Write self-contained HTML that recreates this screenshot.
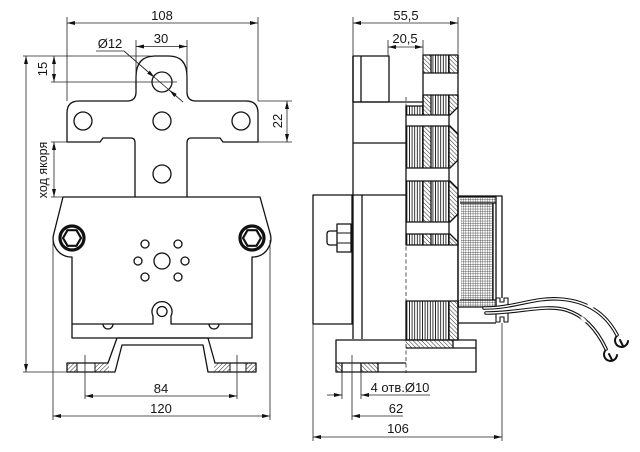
<!DOCTYPE html>
<html><head><meta charset="utf-8"><style>
html,body{margin:0;padding:0;background:#fff;}
svg{display:block;}
text{font-family:"Liberation Sans",Arial,sans-serif;font-size:13px;fill:#151515;}
</style></head><body>
<svg width="640" height="452" viewBox="0 0 640 452" xmlns="http://www.w3.org/2000/svg">
<defs>
<marker id="ar" viewBox="0 0 8 4" refX="8" refY="2" markerWidth="8" markerHeight="4" markerUnits="userSpaceOnUse" orient="auto-start-reverse"><path d="M0,0 L8,2 L0,4 z" fill="#111"/></marker>
<pattern id="v" width="2.6" height="10" patternUnits="userSpaceOnUse"><line x1="1.3" y1="0" x2="1.3" y2="10" stroke="#111" stroke-width="0.85"/></pattern>
<pattern id="ds" width="3" height="3" patternUnits="userSpaceOnUse" patternTransform="rotate(-45)"><line x1="0" y1="0" x2="0" y2="3" stroke="#111" stroke-width="0.9"/></pattern>
<pattern id="df" width="3" height="3" patternUnits="userSpaceOnUse" patternTransform="rotate(45)"><line x1="0" y1="0" x2="0" y2="3" stroke="#111" stroke-width="0.9"/></pattern>
<pattern id="x" width="2.4" height="2.4" patternUnits="userSpaceOnUse"><path d="M0,0 H2.4 M0,0 V2.4" stroke="#222" stroke-width="0.65" fill="none"/></pattern>
</defs>

<g fill="none" stroke="#111" stroke-width="1.3" stroke-linejoin="round">
<!-- ===== LEFT VIEW ===== -->
<path d="M135,197 L135,143 Q135,138 131,138 L103,138 L100,142 L67,142 L67,113 Q67,101 79,101 L127,101 Q136,101 136,92 L136,77 Q136,56 155,56 L169,56 Q187,56 187,77 L187,92 Q187,101 196,101 L246,101 Q258,101 258,113 L258,142 L223,142 L220,138 L191,138 Q187,138 187,143 L187,197"/>
<circle cx="162" cy="82" r="10"/>
<circle cx="83" cy="121" r="9"/>
<circle cx="162" cy="121" r="9"/>
<circle cx="241" cy="121" r="9"/>
<circle cx="162" cy="174" r="9"/>
<path d="M63,197 L260,197 L270,233 A18.5,18.5 0 0 1 254,257 L252,257 L252,338 L72,338 L72,257 L70,257 A18.5,18.5 0 0 1 54,233 Z"/>
<circle cx="72" cy="238" r="12" stroke-width="3.2"/>
<polygon points="81,238 76.5,245.8 67.5,245.8 63,238 67.5,230.2 76.5,230.2" stroke-width="2.2"/>
<circle cx="252" cy="238" r="12" stroke-width="3.2"/>
<polygon points="261,238 256.5,245.8 247.5,245.8 243,238 247.5,230.2 256.5,230.2" stroke-width="2.2"/>
<circle cx="162" cy="261" r="8"/>
<circle cx="145" cy="244" r="4"/><circle cx="178" cy="244" r="4"/>
<circle cx="138" cy="261" r="4"/><circle cx="185" cy="261" r="4"/>
<circle cx="145" cy="277" r="4"/><circle cx="178" cy="277" r="4"/>
<path d="M72,324 L153,324 L153,316 A10,10 0 1 1 171,316 L171,324 L252,324"/>
<circle cx="162" cy="311.5" r="5"/>
<path d="M103,324 A5,5 0 0 0 113,324 M209,324 A5,5 0 0 0 219,324"/>
<rect x="67" y="363" width="10" height="9" fill="url(#df)" stroke="none"/>
<rect x="95" y="363" width="14" height="9" fill="url(#df)" stroke="none"/>
<rect x="214" y="363" width="16" height="9" fill="url(#df)" stroke="none"/>
<rect x="246" y="363" width="10" height="9" fill="url(#df)" stroke="none"/>
<path d="M67,363 L108,363 L117,338 L208,338 L215,363 L256,363 L256,372 L208,372 L203,345 L122,345 L115,372 L67,372 Z"/>
<path d="M77,363 V372 M95,363 V372 M230,363 V372 M246,363 V372" stroke-width="1"/>
</g>

<g fill="none" stroke="#222" stroke-width="0.8">
<path d="M67,17 V101 M258,17 V101"/>
<line x1="67" y1="23" x2="258" y2="23" marker-start="url(#ar)" marker-end="url(#ar)"/>
<path d="M136,40 V80 M187,40 V92"/>
<line x1="136" y1="46.5" x2="187" y2="46.5" marker-start="url(#ar)" marker-end="url(#ar)"/>
<path d="M96,51 H124 L183,102"/>
<line x1="124" y1="51" x2="154.5" y2="77.4" marker-end="url(#ar)"/>
<line x1="183" y1="102" x2="169.5" y2="90.3" marker-end="url(#ar)"/>
<path d="M23,56 H150 M23,372 H67"/>
<line x1="26" y1="56" x2="26" y2="372" marker-start="url(#ar)" marker-end="url(#ar)"/>
<path d="M51,82 H177"/>
<line x1="54" y1="56" x2="54" y2="82" marker-start="url(#ar)" marker-end="url(#ar)"/>
<path d="M51,142 H67 M51,197 H63"/>
<line x1="54" y1="142" x2="54" y2="197" marker-start="url(#ar)" marker-end="url(#ar)"/>
<path d="M258,101 H292 M258,142 H292"/>
<line x1="287" y1="101" x2="287" y2="142" marker-start="url(#ar)" marker-end="url(#ar)"/>
<path d="M85,355 V399 M237,355 V399"/>
<line x1="85" y1="396" x2="237" y2="396" marker-start="url(#ar)" marker-end="url(#ar)"/>
<path d="M53,240 V420 M270,240 V420"/>
<line x1="53" y1="416" x2="270" y2="416" marker-start="url(#ar)" marker-end="url(#ar)"/>
</g>
<text x="162" y="20" text-anchor="middle">108</text>
<text x="161" y="43" text-anchor="middle">30</text>
<text x="110" y="48" text-anchor="middle">Ø12</text>
<text transform="translate(47,69) rotate(-90)" text-anchor="middle">15</text>
<text transform="translate(47,170) rotate(-90)" text-anchor="middle" style="font-size:12.5px">ход якоря</text>
<text transform="translate(282,121) rotate(-90)" text-anchor="middle">22</text>
<text x="161" y="393" text-anchor="middle">84</text>
<text x="161" y="413" text-anchor="middle">120</text>

<!-- ===== RIGHT VIEW ===== -->
<g stroke="none">
<rect x="423" y="55" width="8" height="18" fill="url(#ds)"/>
<rect x="431" y="55" width="18" height="18" fill="url(#v)"/>
<rect x="449" y="55" width="9" height="18" fill="url(#ds)"/>
<rect x="423" y="95" width="8" height="20" fill="url(#ds)"/>
<rect x="431" y="95" width="18" height="20" fill="url(#v)"/>
<polygon points="449,95 458,95 458,107 450,115 449,115" fill="url(#ds)"/>
<rect x="406" y="106" width="17" height="9" fill="url(#v)"/>
<rect x="406" y="126" width="17" height="42" fill="url(#v)"/>
<rect x="423" y="126" width="8" height="42" fill="url(#ds)"/>
<rect x="431" y="126" width="18" height="42" fill="url(#v)"/>
<polygon points="449,126 450,126 458,134 458,160 450,168 449,168" fill="url(#ds)"/>
<rect x="406" y="181" width="17" height="41" fill="url(#v)"/>
<rect x="423" y="181" width="8" height="41" fill="url(#ds)"/>
<rect x="431" y="181" width="18" height="41" fill="url(#v)"/>
<polygon points="449,181 450,181 458,189 458,214 450,222 449,222" fill="url(#ds)"/>
<rect x="406" y="234" width="17" height="11" fill="url(#v)"/>
<rect x="423" y="234" width="8" height="11" fill="url(#ds)"/>
<rect x="431" y="234" width="18" height="11" fill="url(#v)"/>
<polygon points="449,234 450,234 458,242 458,245 449,245" fill="url(#ds)"/>
<rect x="406" y="301" width="43" height="39" fill="url(#v)"/>
<rect x="449" y="301" width="9" height="39" fill="url(#ds)"/>
<rect x="406" y="340" width="47" height="8" fill="url(#ds)"/>
<rect x="336" y="363" width="6" height="9" fill="url(#ds)"/>
<rect x="361" y="363" width="17" height="9" fill="url(#ds)"/>
<rect x="460" y="198" width="36" height="5" fill="url(#x)"/>
<rect x="461" y="203" width="32" height="97" fill="url(#x)"/>
<rect x="458" y="300" width="38" height="7" fill="url(#x)"/>
</g>

<g fill="none" stroke="#111" stroke-width="1.3" stroke-linejoin="round">
<line x1="406" y1="97" x2="406" y2="373" stroke-width="1" stroke-dasharray="4,2.5" stroke="#555"/>
<rect x="353" y="56" width="36" height="46"/>
<path d="M361,56 V102"/>
<path d="M353,56 V339"/>
<path d="M353,102 H423 M353,143 H406"/>
<rect x="313" y="195" width="39" height="129"/>
<path d="M352,195 H406 M362,195 V339"/>
<path d="M337,231 H330 Q327,231 327,234 V242 Q327,245 330,245 H337"/>
<rect x="337" y="224" width="14" height="28"/>
<path d="M337,233 H351 M337,243 H351" stroke-width="1"/>
<rect x="336" y="340" width="140" height="32"/>
<path d="M336,363 H406 M342,363 V372 M361,363 V372 M378,363 V372 M406,348 H476 M453,340 V348"/>
<rect x="423" y="55" width="35" height="18"/>
<path d="M431,55 V73 M449,55 V73"/>
<path d="M423,73 V106"/>
<polygon points="423,95 458,95 458,107 450,115 423,115"/>
<path d="M431,95 V115 M449,95 V115"/>
<rect x="406" y="106" width="17" height="9"/>
<path d="M406,115 V126 M449,115 V126"/>
<polygon points="406,126 450,126 458,134 458,160 450,168 406,168"/>
<path d="M423,126 V168 M431,126 V168 M449,126 V168"/>
<path d="M406,168 V181 M449,168 V181"/>
<polygon points="406,181 450,181 458,189 458,214 450,222 406,222"/>
<path d="M423,181 V222 M431,181 V222 M449,181 V222"/>
<path d="M406,222 V234 M449,222 V234"/>
<polygon points="406,234 450,234 458,242 458,245 406,245"/>
<path d="M423,234 V245 M431,234 V245 M449,234 V245"/>
<rect x="406" y="301" width="52" height="39"/>
<path d="M449,301 V340"/>
<path d="M458,55 V340"/>
<rect x="458" y="197" width="38" height="110"/>
<path d="M460,203 H496 M460,300 H496 M493,203 V300"/>
<path d="M458,196 H502 V298 M458,323 H496"/>
<path d="M496,298 H500 V302 H504 V298 H508 V307 H496 Z" stroke-width="1.1"/>
<path d="M496,313 H508 V322 H504 V317 H500 V322 H496 Z" stroke-width="1.1"/>
</g>

<g fill="none" stroke-linecap="round">
<path d="M484,308 C515,308 535,297 560,299 C588,301 606,314 617,335" stroke="#111" stroke-width="3.6"/>
<path d="M484,308 C515,308 535,297 560,299 C588,301 606,314 617,335" stroke="#fff" stroke-width="1.4"/>
<path d="M486,313 C520,313 545,304 566,310 C586,316 598,332 606,349" stroke="#111" stroke-width="3.6"/>
<path d="M486,313 C520,313 545,304 566,310 C586,316 598,332 606,349" stroke="#fff" stroke-width="1.4"/>
<path d="M589,305 L592,307 M582,318 L585,321" stroke="#fff" stroke-width="3"/>
<path d="M616,337 A6.5,6.5 0 1 0 628,341 M620,340 L623,346" stroke="#111" stroke-width="2"/>
<path d="M605,351 A6.5,6.5 0 1 0 617,355 M609,354 L612,360" stroke="#111" stroke-width="2"/>
</g>

<g fill="none" stroke="#222" stroke-width="0.8">
<path d="M353,17 V56 M458,17 V55"/>
<line x1="353" y1="23" x2="458" y2="23" marker-start="url(#ar)" marker-end="url(#ar)"/>
<path d="M388,40 V56 M423,40 V55"/>
<line x1="388" y1="47" x2="423" y2="47" marker-start="url(#ar)" marker-end="url(#ar)"/>
<path d="M313,324 V441 M502,323 V441"/>
<line x1="313" y1="437" x2="502" y2="437" marker-start="url(#ar)" marker-end="url(#ar)"/>
<path d="M352,355 V420"/>
<line x1="403" y1="416" x2="352" y2="416" marker-end="url(#ar)"/>
<path d="M342,372 V399 M361,372 V399"/>
<line x1="327" y1="395" x2="342" y2="395" marker-end="url(#ar)"/>
<line x1="430" y1="395" x2="361" y2="395" marker-end="url(#ar)"/>
</g>
<text x="406" y="20" text-anchor="middle">55,5</text>
<text x="405" y="43" text-anchor="middle">20,5</text>
<text x="400" y="392" text-anchor="middle">4 отв.Ø10</text>
<text x="396" y="413" text-anchor="middle">62</text>
<text x="398" y="433" text-anchor="middle">106</text>
</svg>
</body></html>
